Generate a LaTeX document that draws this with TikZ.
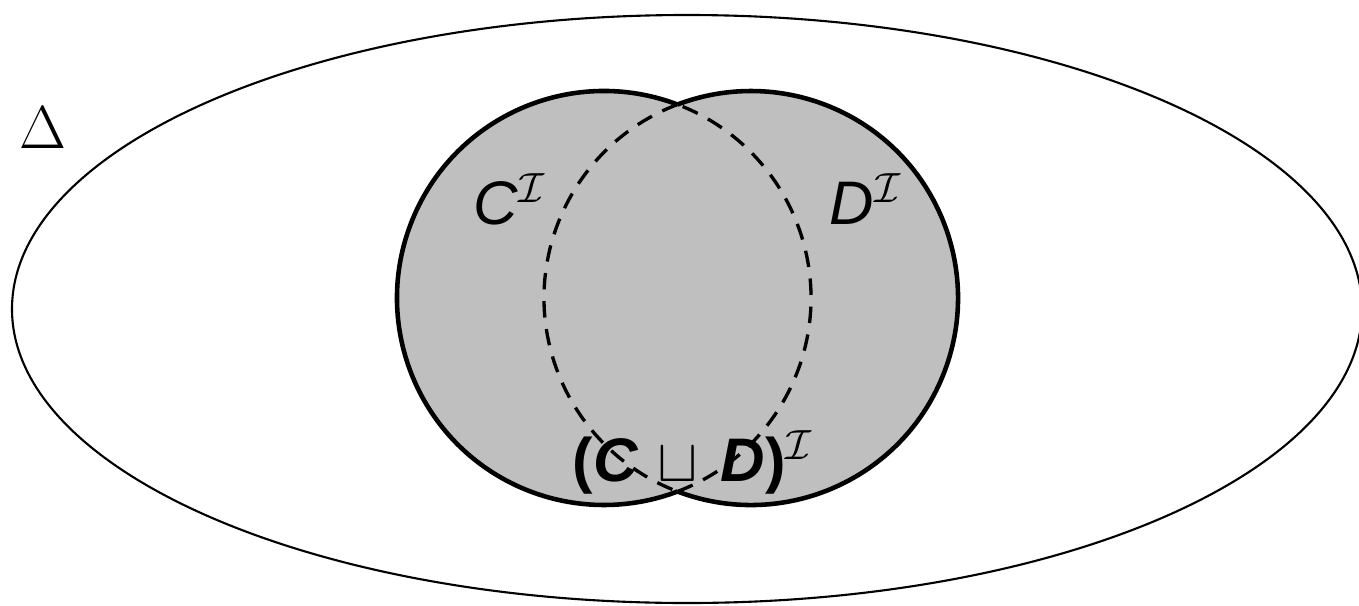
\documentclass[tikz,border=0pt]{standalone}
\usepackage{fontspec}
\setmainfont{Liberation Sans}
\usepackage{amssymb}
\begin{document}
\begin{tikzpicture}[x=0.1mm,y=0.1mm,
  every node/.style={font=\fontsize{17.5}{20}\selectfont,inner sep=0pt},
  domainline/.style={line width=0.6pt},
  setfill/.style={fill=black!25},
  setedge/.style={line width=1.3pt},
  overlap/.style={line width=0.95pt,dash pattern=on 4.7pt off 3.3pt}]
\useasboundingbox (0,0) rectangle (1359,605);
% domain and the two concepts
\coordinate (cc) at (604,307);
\coordinate (dc) at (751,307);
\coordinate (top) at (677.5,500.5);
\coordinate (bot) at (677.5,113.5);
\draw[domainline] (687,296) ellipse [x radius=675, y radius=294];
\fill[setfill] (cc) circle [radius=207] (dc) circle [radius=207];
\draw[setedge] (top) arc [start angle=69.2, end angle=290.8, radius=207];
\draw[setedge] (bot) arc [start angle=-110.8, end angle=110.8, radius=207];
% labels
\node (delta) at (43,477) {$\Delta$};
\node (clab) at (510,406) {\textit{C}$^{\mathcal{I}}$};
\node (dlab) at (866,406) {\textit{D}$^{\mathcal{I}}$};
\node (cdlab) at (693,143) {\textbf{(\textit{C}\hspace{0.32em}$\sqcup$\hspace{0.36em}\textit{D})}$^{\mathcal{I}}$};
% overlapping parts
\draw[overlap] (bot) arc [start angle=-69.2, end angle=69.2, radius=207];
\draw[overlap] (top) arc [start angle=110.8, end angle=249.2, radius=207];
\end{tikzpicture}
\end{document}
